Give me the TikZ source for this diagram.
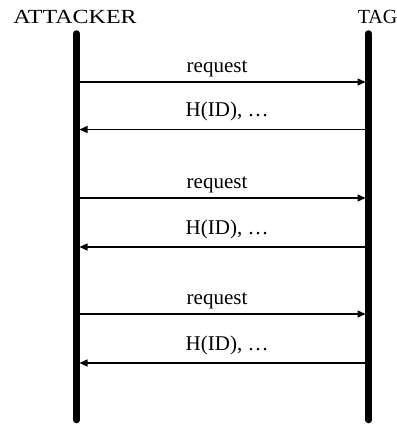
\documentclass[tikz,border=0pt]{standalone}
\usepackage{fontspec}
\usepackage{graphicx}
\setmainfont{Liberation Serif}
\usetikzlibrary{arrows.meta}
\begin{document}
\begin{tikzpicture}[x=1pt,y=-1pt,
  lifeline/.style={line width=6.5pt,line cap=round},
  msg/.style={line width=1.4pt,-{Triangle[length=8pt,width=7pt]}},
  title/.style={inner sep=0pt,anchor=base,font=\fontsize{20}{22}\selectfont},
  lbl/.style={inner sep=0pt,anchor=base west,font=\fontsize{21}{23}\selectfont}]
\useasboundingbox (0,0) rectangle (397,424);
% actors
\node[title] (att) at (75,23) {\scalebox{1.2}[1]{ATTACKER}};
\node[title] (tag) at (377.5,23) {TAG};
% lifelines
\coordinate (Lt) at (76.5,33.5);
\coordinate (Lb) at (76.5,420);
\coordinate (Rt) at (368.5,33.5);
\coordinate (Rb) at (368.5,420);
\draw[lifeline] (Lt) -- (Lb);
\draw[lifeline] (Rt) -- (Rb);
% messages
\foreach \i/\yr/\yh in {1/82/129.5, 2/198/247, 3/314/363}{
  \coordinate (ls\i) at (79.5,\yr);
  \coordinate (re\i) at (365.5,\yr);
  \coordinate (rs\i) at (365.5,\yh);
  \coordinate (le\i) at (79.5,\yh);
  \draw[msg] (ls\i) -- (re\i);
  \draw[msg] (rs\i) -- (le\i);
  \node[lbl] (req\i) at (186.5,\yr-10) {request};
  \node[lbl] (hid\i) at (185.5,\yh-13) {H(ID), \dots};
}
\end{tikzpicture}
\end{document}
